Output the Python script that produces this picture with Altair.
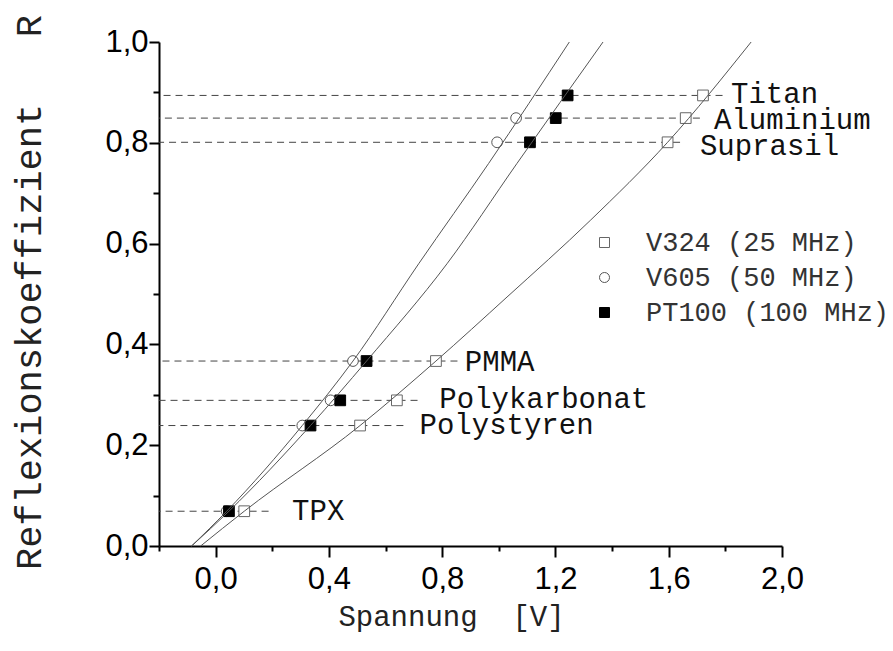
import altair as alt
import pandas as pd

# ---------------- data ----------------
materials = ["Titan", "Aluminium", "Suprasil", "PMMA", "Polykarbonat", "Polystyren", "TPX"]
reflexion = [0.894, 0.849, 0.801, 0.367, 0.289, 0.239, 0.069]
v324 = [1.721, 1.660, 1.596, 0.778, 0.640, 0.510, 0.101]
v605 = [None, 1.061, 0.994, 0.485, 0.406, 0.306, 0.039]
pt100 = [1.243, 1.201, 1.110, 0.533, 0.440, 0.335, 0.047]
dash_end = [1.79, 1.71, 1.64, 0.854, 0.713, 0.663, 0.187]
label_v = [1.82, 1.76, 1.71, 0.88, 0.79, 0.72, 0.27]
label_r = [0.897, 0.845, 0.793, 0.365, 0.291, 0.240, 0.070]

series = ["V324 (25 MHz)", "V605 (50 MHz)", "PT100 (100 MHz)"]

# fitted curves
curve_v324_v = [-0.053, 0.101, 0.510, 0.778, 1.029, 1.323, 1.596, 1.891]
curve_v324_r = [0.0, 0.069, 0.239, 0.367, 0.494, 0.646, 0.801, 1.0]
curve_v605_v = [-0.085, 0.039, 0.306, 0.485, 0.717, 0.964, 1.249]
curve_v605_r = [0.0, 0.069, 0.239, 0.367, 0.560, 0.759, 1.0]
curve_pt100_v = [-0.085, 0.047, 0.335, 0.533, 0.817, 1.064, 1.368]
curve_pt100_r = [0.0, 0.069, 0.239, 0.367, 0.560, 0.759, 1.0]

x_major = [0.0, 0.4, 0.8, 1.2, 1.6, 2.0]
x_minor = [-0.2, 0.2, 0.6, 1.0, 1.4, 1.8]
y_major = [0.0, 0.2, 0.4, 0.6, 0.8, 1.0]
y_minor = [0.1, 0.3, 0.5, 0.7, 0.9]

# ---------------- tables ----------------
pts = []
for s, vals in zip(series, [v324, v605, pt100]):
    for m, r, v in zip(materials, reflexion, vals):
        if v is not None:
            pts.append({"material": m, "R": r, "V": v, "series": s})
points_df = pd.DataFrame(pts)

crv = []
for s, vs, rs in zip(series,
                     [curve_v324_v, curve_v605_v, curve_pt100_v],
                     [curve_v324_r, curve_v605_r, curve_pt100_r]):
    for i, (v, r) in enumerate(zip(vs, rs)):
        crv.append({"series": s, "V": v, "R": r, "i": i})
curves_df = pd.DataFrame(crv)

rules_df = pd.DataFrame({"material": materials, "R": reflexion, "end": dash_end})
labels_df = pd.DataFrame({"material": materials, "R": label_r, "V": label_v})

xscale = alt.Scale(domain=[-0.2, 2.0], nice=False, zero=False)
yscale = alt.Scale(domain=[0.0, 1.0], nice=False, zero=False)

fmt = "replace(format(datum.value, '.1f'), '.', ',')"
NB = "\u00a0"

x_axis_major = alt.Axis(
    orient="bottom", values=x_major, labelExpr=fmt, grid=False,
    tickSize=11, tickWidth=2, tickColor="black",
    domainColor="black", domainWidth=2,
    labelFont="Liberation Sans", labelFontSize=31, labelColor="black", labelPadding=7,
    labelFlush=False, labelOverlap=False,
    title="Spannung" + NB + NB + "[V]", titleFont="Liberation Mono", titleFontSize=29,
    titleFontWeight="normal", titleColor="#222", titleX=292, titleY=79,
    titleBaseline="alphabetic", titleLimit=1000,
)
y_axis_major = alt.Axis(
    orient="left", values=y_major, labelExpr=fmt, grid=False,
    tickSize=10, tickWidth=2, tickColor="black",
    domainColor="black", domainWidth=2,
    labelFont="Liberation Sans", labelFontSize=31, labelColor="black", labelPadding=1,
    labelFlush=False, labelOverlap=False,
    title="Reflexionskoeffizient" + NB + NB + NB + "R", titleFont="Liberation Mono",
    titleFontSize=37, titleFontWeight="normal", titleColor="#222",
    titleX=-119, titleY=250, titleBaseline="alphabetic", titleAngle=270, titleLimit=1000,
)
x_axis_minor = alt.Axis(
    orient="bottom", values=x_minor, labels=False, domain=False, grid=False,
    tickSize=5, tickWidth=2, tickColor="black",
)
y_axis_minor = alt.Axis(
    orient="left", values=y_minor, labels=False, domain=False, grid=False,
    tickSize=6, tickWidth=2, tickColor="black",
)

rules = alt.Chart(rules_df).mark_rule(
    strokeDash=[7, 5], color="#444", strokeWidth=1
).encode(
    x=alt.X("end:Q", scale=xscale, axis=x_axis_major),
    x2=alt.value(0),
    y=alt.Y("R:Q", scale=yscale, axis=y_axis_major),
)

lines = alt.Chart(curves_df).mark_line(
    color="#555", strokeWidth=1, interpolate="monotone"
).encode(
    x=alt.X("V:Q", scale=xscale, axis=x_axis_minor, title=None),
    y=alt.Y("R:Q", scale=yscale, axis=y_axis_minor, title=None),
    detail="series:N",
    order="i:Q",
)

legend = alt.Legend(
    orient="none", legendX=432, legendY=187, title=None,
    labelFont="Liberation Mono", labelFontSize=27, labelColor="#333",
    labelLimit=500, symbolSize=100, symbolStrokeWidth=1, rowPadding=7,
    labelOffset=28, padding=0,
)

points = alt.Chart(points_df).mark_point(filled=True, opacity=1, size=115, strokeWidth=1).encode(
    x=alt.X("V:Q", scale=xscale, axis=None),
    y=alt.Y("R:Q", scale=yscale, axis=None),
    shape=alt.Shape("series:N", sort=series,
                    scale=alt.Scale(domain=series, range=["square", "circle", "square"]),
                    legend=legend),
    fill=alt.Fill("series:N", sort=series,
                  scale=alt.Scale(domain=series, range=["white", "white", "black"]),
                  legend=legend),
    stroke=alt.Stroke("series:N", sort=series,
                      scale=alt.Scale(domain=series, range=["#666", "#555", "black"]),
                      legend=legend),
)

labels = alt.Chart(labels_df).mark_text(
    align="left", baseline="middle", font="Liberation Mono", fontSize=29, color="#111"
).encode(
    x=alt.X("V:Q", scale=xscale, axis=None),
    y=alt.Y("R:Q", scale=yscale, axis=None),
    text="material:N",
)

chart = alt.layer(rules, points, lines, labels).resolve_axis(
    x="independent", y="independent"
).properties(
    width=623, height=504,
    autosize=alt.AutoSizeParams(type="none"),
    padding={"left": 159, "top": 42, "right": 111, "bottom": 105},
    background="white",
).configure_view(stroke=None)

chart.save("out.html", embed_options={"renderer": "svg", "actions": False})
